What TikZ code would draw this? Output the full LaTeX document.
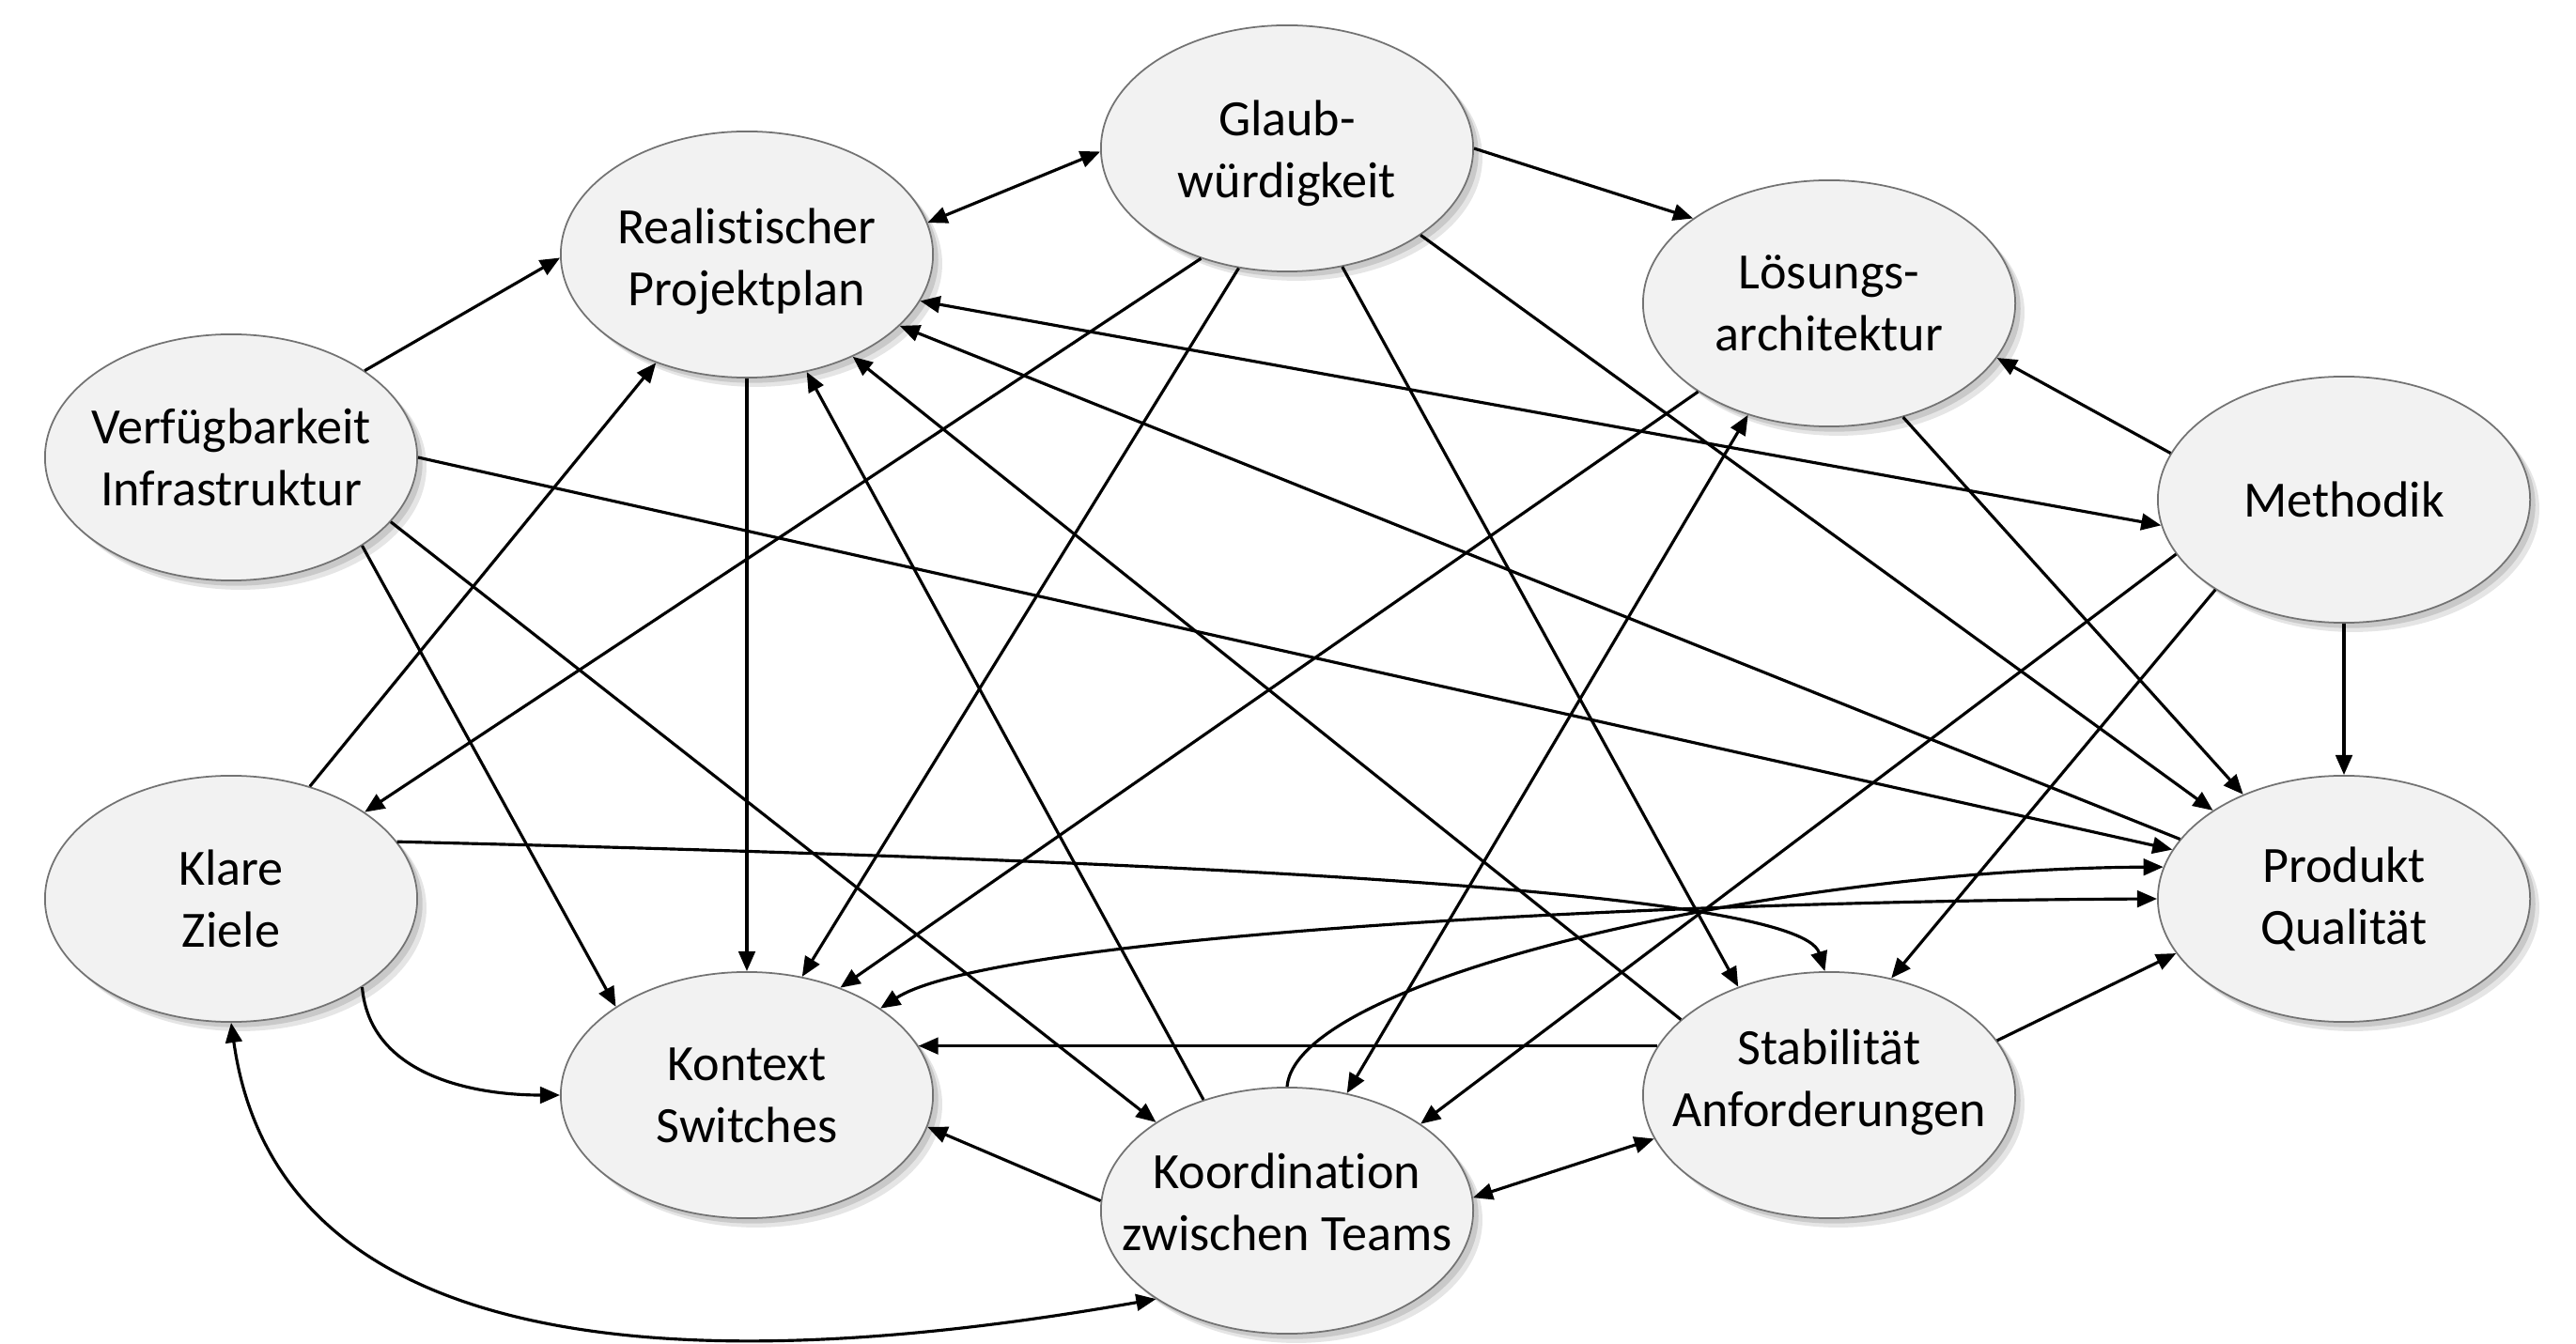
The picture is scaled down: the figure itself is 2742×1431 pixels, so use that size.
\documentclass[tikz,border=0pt]{standalone}
\usepackage{fontspec}
\setmainfont{Carlito}[Ligatures=NoCommon]
\usetikzlibrary{shapes.geometric,arrows.meta,shadows}
\definecolor{nodefill}{HTML}{F2F2F2}
\begin{document}
\begin{tikzpicture}[x=0.01cm,y=-0.01cm,
  ell/.style={ellipse, draw=black!55, line width=0.5pt, fill=nodefill,
    minimum width=3.96cm, minimum height=2.62cm, inner sep=0pt,
    drop shadow={shadow xshift=2.8pt, shadow yshift=-2.8pt, fill=black, opacity=0.10},
    drop shadow={shadow xshift=1.6pt, shadow yshift=-1.6pt, fill=black, opacity=0.12}},
  lbl/.style={align=center, inner sep=0pt, font=\fontsize{15.4}{18.8}\selectfont},
  conn/.style={line width=0.9pt, -{Triangle[length=6pt,width=5pt]}},
  both/.style={line width=0.9pt, {Triangle[length=6pt,width=5pt]}-{Triangle[length=6pt,width=5pt]}}]
\useasboundingbox (0,0) rectangle (2742,1431);
% nodes
\node[ell] (G) at (1370,158) {};
\node[ell] (R) at (795,271) {};
\node[ell] (L) at (1947,323) {};
\node[ell] (V) at (246,487) {};
\node[ell] (M) at (2495,532) {};
\node[ell] (K) at (246,957) {};
\node[ell] (P) at (2495,957) {};
\node[ell] (C) at (795,1166) {};
\node[ell] (S) at (1947,1166) {};
\node[ell] (T) at (1370,1289) {};
\node[lbl] (G-t) at ([yshift=-0.05cm]G.center) {Glaub-\\würdigkeit};
\node[lbl] (R-t) at ([yshift=-0.07cm]R.center) {Realistischer\\Projektplan};
\node[lbl] (L-t) at (L) {Lösungs-\\architektur};
\node[lbl] (V-t) at (V) {Verfügbarkeit\\Infrastruktur};
\node[lbl] (M-t) at (M) {Methodik};
\node[lbl] (K-t) at (K) {Klare\\Ziele};
\node[lbl] (P-t) at (P) {Produkt\\Qualität};
\node[lbl] (C-t) at (C) {Kontext\\Switches};
\node[lbl] (S-t) at ([yshift=0.14cm]S.center) {Stabilität\\Anforderungen};
\node[lbl] (T-t) at ([yshift=0.09cm]T.center) {Koordination\\zwischen Teams};
% connectors
\draw[both] (R.10) -- (G.181);
\draw[conn] (G.0) -- (L.148);
\draw[conn] (V.33) -- (R.181);
\draw[conn] (V.-34) -- (C.146);
\draw[conn] (V.-22) -- (T.146);
\draw[conn] (V.0) -- (P.164);
\draw[conn] (K.55) -- (R.230);
\draw[conn] (G.232) -- (K.33);
\draw[conn] (R.270) -- (C.90);
\draw[conn] (G.248) -- (C.65);
\draw[conn] (L.214) -- (C.49);
\draw[both] (C.33) .. controls (1050,1000) and (1700,960) .. (P.180);
\draw[conn] (S.164) -- (C.16);
\draw[conn] (T.177) -- (C.-10);
\draw[conn] (K.-34) to[out=-85,in=180] (C.180);
\draw[both] (K.270) to[out=-82,in=190] (T.214);
\draw[conn] (T.127) -- (R.297);
\draw[conn] (S.153) -- (R.316);
\draw[conn] (P.160) -- (R.335);
\draw[both] (R.345) -- (M.188);
\draw[conn] (G.327) -- (P.146);
\draw[conn] (G.295) -- (S.130);
\draw[conn] (L.303) -- (P.134);
\draw[conn] (M.165) -- (L.342);
\draw[conn] (M.270) -- (P.90);
\draw[conn] (M.198) -- (T.33);
\draw[conn] (M.215) -- (S.62);
\draw[both] (L.234) -- (T.63);
\draw[conn] (K.19) .. controls (1200,915) and (1915,945) .. (S.92);
\draw[conn] (T.90) .. controls (1380,1040) and (1900,925) .. (P.170);
\draw[conn] (S.18) -- (P.198);
\draw[both] (T.4) -- (S.194);
\end{tikzpicture}
\end{document}
